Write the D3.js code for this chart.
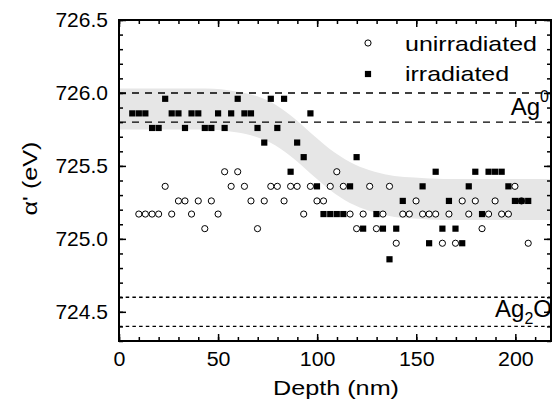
<!DOCTYPE html>
<html>
<head>
<meta charset="utf-8">
<script src="https://cdn.jsdelivr.net/npm/d3@7"></script>
<style>
  body { margin: 0; background: #fff; }
  text { font-family: "Liberation Sans", Arial, sans-serif; fill: #000; }
</style>
</head>
<body>
<div id="chart"></div>
<script>
// ---------- data ----------
var unirrDepth = [10.0, 13.3, 16.7, 20.0, 23.3, 26.6, 30.0, 33.3, 36.6, 40.0, 43.3, 46.6, 50.0, 53.3, 56.6, 59.9,
  63.3, 66.6, 69.9, 73.3, 76.6, 79.9, 83.3, 86.6, 89.9, 93.2, 96.6, 99.9, 103.2, 106.6, 109.9, 113.2, 116.6, 119.9,
  123.2, 126.5, 129.9, 133.2, 136.5, 139.9, 143.2, 146.5, 149.9, 153.2, 156.5, 159.8, 163.2, 166.5, 169.8,
  173.2, 176.5, 179.8, 183.2, 186.5, 189.8, 193.1, 196.5, 199.8, 203.1, 206.5];
var unirrValue = [725.17, 725.17, 725.17, 725.17, 725.36, 725.17, 725.26, 725.26, 725.17, 725.26, 725.07, 725.26, 725.17, 725.46, 725.36, 725.46,
  725.36, 725.26, 725.07, 725.26, 725.36, 725.36, 725.26, 725.36, 725.36, 725.17, 725.36, 725.26, 725.26, 725.36, 725.46, 725.36, 725.17, 725.07,
  725.17, 725.36, 725.07, 725.17, 725.36, 724.97, 725.17, 725.17, 725.26, 725.17, 725.17, 725.17, 724.97, 725.17, 724.97,
  725.26, 725.17, 725.26, 725.07, 725.17, 725.26, 725.17, 725.17, 725.36, 725.26, 724.97];

var irrDepth = [6.7, 10.0, 13.3, 16.7, 20.0, 23.3, 26.6, 30.0, 33.3, 36.6, 40.0, 43.3, 46.6, 50.0, 53.3, 56.6, 59.9,
  63.3, 66.6, 69.9, 73.3, 76.6, 79.9, 83.3, 86.6, 89.9, 93.2, 96.6, 99.9, 103.2, 106.6, 109.9, 113.2, 116.6, 119.9,
  123.2, 129.9, 133.2, 136.5, 139.9, 143.2, 153.2, 156.5, 159.8, 163.2, 166.5, 169.8,
  173.2, 176.5, 179.8, 183.2, 186.5, 189.8, 193.1, 196.5, 199.8, 203.1, 206.5];
var irrValue = [725.86, 725.86, 725.86, 725.76, 725.76, 725.96, 725.86, 725.86, 725.76, 725.86, 725.86, 725.76, 725.76, 725.86, 725.76, 725.86, 725.96,
  725.86, 725.86, 725.76, 725.66, 725.96, 725.76, 725.96, 725.46, 725.66, 725.56, 725.86, 725.36, 725.17, 725.17, 725.17, 725.17, 725.36, 725.56,
  725.07, 725.17, 725.07, 724.86, 725.07, 725.26, 725.36, 724.97, 725.46, 725.07, 725.26, 725.07,
  724.97, 725.36, 725.46, 725.17, 725.46, 725.46, 725.46, 725.36, 725.26, 725.26, 725.26];

// shaded transition band (upper / lower edge)
var bandDepth = [0, 44, 59, 69, 79, 89, 99, 109, 119, 129, 139, 149, 164, 218];
var bandUpper = [726.03, 726.03, 726.01, 725.98, 725.92, 725.82, 725.70, 725.59, 725.51, 725.46, 725.43, 725.42, 725.41, 725.41];
var bandLower = [725.75, 725.75, 725.73, 725.70, 725.64, 725.54, 725.42, 725.31, 725.23, 725.18, 725.15, 725.14, 725.13, 725.13];

// reference levels
var ag0Levels = [726.0, 725.8];
var ag2oLevels = [724.6, 724.4];

var xMajor = [0, 50, 100, 150, 200];
var yMajor = [724.5, 725.0, 725.5, 726.0, 726.5];

// ---------- chart setup ----------
var svgWidth = 553, svgHeight = 409;
var margin = {top: 20, right: 2, bottom: 68, left: 119};
var width = svgWidth - margin.left - margin.right;
var height = svgHeight - margin.top - margin.bottom;

var svg = d3.select("#chart").append("svg").attr("width", svgWidth).attr("height", svgHeight);
var g = svg.append("g").attr("transform", `translate(${margin.left}, ${margin.top})`);

var x = d3.scaleLinear().domain([0, 218]).range([0, width]);
var y = d3.scaleLinear().domain([724.3, 726.5]).range([height, 0]);

g.append("defs").append("clipPath").attr("id", "clip")
  .append("rect").attr("width", width).attr("height", height);
var plot = g.append("g").attr("clip-path", "url(#clip)");

// band
var band = bandDepth.map((d, i) => ({d: d, hi: bandUpper[i], lo: bandLower[i]}));
plot.append("path").datum(band)
  .attr("fill", "#e6e6e6")
  .attr("d", d3.area().curve(d3.curveMonotoneX).x(d => x(d.d)).y0(d => y(d.lo)).y1(d => y(d.hi)));

// reference lines
plot.selectAll(".ag0").data(ag0Levels).enter().append("line")
  .attr("x1", 0).attr("x2", width).attr("y1", d => y(d)).attr("y2", d => y(d))
  .attr("stroke", "#000").attr("stroke-width", 1.4).attr("stroke-dasharray", "7,6");
plot.selectAll(".ag2o").data(ag2oLevels).enter().append("line")
  .attr("x1", 0).attr("x2", width).attr("y1", d => y(d)).attr("y2", d => y(d))
  .attr("stroke", "#000").attr("stroke-width", 1.3).attr("stroke-dasharray", "3.5,3.2");

// points
plot.selectAll(".unirr").data(unirrDepth).enter().append("circle")
  .attr("cx", (d) => x(d)).attr("cy", (d, i) => y(unirrValue[i]))
  .attr("r", 3.1).attr("fill", "#fff").attr("stroke", "#000").attr("stroke-width", 1);
plot.selectAll(".irr").data(irrDepth).enter().append("rect")
  .attr("x", d => x(d) - 3.1).attr("y", (d, i) => y(irrValue[i]) - 3.1)
  .attr("width", 6.2).attr("height", 6.2).attr("fill", "#000");

// ---------- axes ----------
function styleAxis(sel) {
  sel.select(".domain").remove();
  sel.selectAll("line").attr("stroke", "#000").attr("stroke-width", 1.5);
}
var xMinor = d3.range(0, 219, 10);
var yMinor = d3.range(7243, 7266, 1).map(v => v / 10);

g.append("g").attr("transform", `translate(0,${height})`)
  .call(d3.axisBottom(x).tickValues(xMinor).tickSize(-4).tickFormat("")).call(styleAxis);
var xb = g.append("g").attr("transform", `translate(0,${height})`)
  .call(d3.axisBottom(x).tickValues(xMajor).tickSize(-7).tickPadding(11).tickFormat(d3.format("d"))).call(styleAxis);
g.append("g").call(d3.axisTop(x).tickValues(xMinor).tickSize(-4).tickFormat("")).call(styleAxis);
g.append("g").call(d3.axisTop(x).tickValues(xMajor).tickSize(-7).tickFormat("")).call(styleAxis);

g.append("g").call(d3.axisLeft(y).tickValues(yMinor).tickSize(-4).tickFormat("")).call(styleAxis);
var yl = g.append("g")
  .call(d3.axisLeft(y).tickValues(yMajor).tickSize(-7).tickPadding(9).tickFormat(d3.format(".1f"))).call(styleAxis);
g.append("g").attr("transform", `translate(${width},0)`)
  .call(d3.axisRight(y).tickValues(yMinor).tickSize(-4).tickFormat("")).call(styleAxis);
g.append("g").attr("transform", `translate(${width},0)`)
  .call(d3.axisRight(y).tickValues(yMajor).tickSize(-7).tickFormat("")).call(styleAxis);

xb.selectAll("text").attr("font-size", "20px").attr("font-family", null).attr("transform", "scale(1.07,1)");
yl.selectAll("text").attr("font-size", "20px").attr("font-family", null)
  .attr("x", -10.5).attr("transform", "scale(1.05,1)");

// frame
g.append("rect").attr("width", width).attr("height", height)
  .attr("fill", "none").attr("stroke", "#000").attr("stroke-width", 2);

// ---------- titles ----------
g.append("text")
  .attr("transform", `translate(${width / 2 + 1}, ${height + 54}) scale(1.2,1)`)
  .attr("text-anchor", "middle").attr("font-size", "21px")
  .text("Depth (nm)");

g.append("text")
  .attr("transform", `translate(${37 - margin.left}, ${height / 2 - 2}) rotate(-90) scale(1.2,1)`)
  .attr("text-anchor", "middle").attr("font-size", "21px")
  .text("\u03b1' (eV)");

// level labels
var ag0 = g.append("text")
  .attr("transform", `translate(${width - 2}, ${y(725.85)})`)
  .attr("text-anchor", "end").attr("font-size", "24px");
ag0.append("tspan").text("Ag");
ag0.append("tspan").attr("font-size", "16px").attr("dy", "-13").text("0");

var ag2o = g.append("text")
  .attr("transform", `translate(${width + 1}, ${y(724.5) + 5})`)
  .attr("text-anchor", "end").attr("font-size", "24px");
ag2o.append("tspan").text("Ag");
ag2o.append("tspan").attr("font-size", "16px").attr("dy", "7").text("2");
ag2o.append("tspan").attr("dy", "-7").text("O");

// ---------- legend ----------
var legend = svg.append("g");
legend.append("circle").attr("cx", 368).attr("cy", 43).attr("r", 3.1)
  .attr("fill", "#fff").attr("stroke", "#000").attr("stroke-width", 1);
legend.append("rect").attr("x", 368 - 3.1).attr("y", 74 - 3.1).attr("width", 6.2).attr("height", 6.2).attr("fill", "#000");
legend.append("text").attr("transform", "translate(405, 51) scale(1.19,1)").attr("font-size", "21px").text("unirradiated");
legend.append("text").attr("transform", "translate(405, 81) scale(1.19,1)").attr("font-size", "21px").text("irradiated");
</script>
</body>
</html>
